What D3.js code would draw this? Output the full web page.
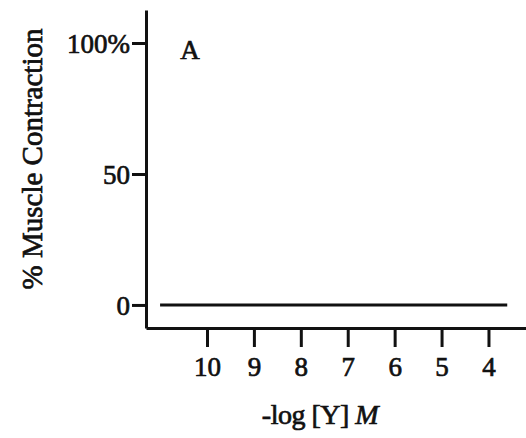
<!DOCTYPE html>
<html>
<head>
<meta charset="utf-8">
<script src="https://cdn.jsdelivr.net/npm/d3@7"></script>
<style>
  body { margin: 0; background: #fff; }
  svg text { font-family: "Liberation Serif", "Times New Roman", serif; fill: #111; stroke: #111; stroke-width: 0.7px; }
</style>
</head>
<body>
<svg width="526" height="438" viewBox="0 0 526 438"></svg>
<script>
// data: contraction stays at 0 over the whole range
var logConc = [11, 3.6];
var contraction = [0, 0];
var xTicks = [10, 9, 8, 7, 6, 5, 4];
var yTicks = [0, 50, 100];
var yTickLabels = ["0", "50", "100%"];

var svg = d3.select("svg");

var x = d3.scaleLinear().domain([11.3, 3.2]).range([146, 526]);
var y = d3.scaleLinear().domain([-8.8, 112.6]).range([328, 10]);

var points = logConc.map(function(d, i) { return [d, contraction[i]]; });

// data line
svg.append("path")
  .datum(points)
  .attr("d", d3.line().x(function(d) { return x(d[0]); }).y(function(d) { return y(d[1]); }))
  .attr("fill", "none")
  .attr("stroke", "#111")
  .attr("stroke-width", 3);

// y axis
var yAxis = svg.append("g")
  .attr("transform", "translate(146,0)")
  .call(d3.axisLeft(y).tickValues(yTicks)
    .tickFormat(function(d, i) { return yTickLabels[i]; })
    .tickSize(14).tickSizeOuter(0).tickPadding(2));

// x axis
var xAxis = svg.append("g")
  .attr("transform", "translate(0," + y(-8.8) + ")")
  .call(d3.axisBottom(x).tickValues(xTicks)
    .tickFormat(d3.format("d"))
    .tickSize(19).tickSizeOuter(0).tickPadding(10));

svg.selectAll(".domain, .tick line")
  .attr("stroke", "#111")
  .attr("stroke-width", 3);
svg.selectAll(".tick text")
  .attr("font-family", "Liberation Serif, serif")
  .attr("font-size", 27)
  .attr("fill", "#111");
yAxis.selectAll(".tick text").attr("dy", "0.36em");

// axis titles
svg.append("text")
  .attr("transform", "translate(32,159) rotate(-90)")
  .attr("text-anchor", "middle")
  .attr("dominant-baseline", "central")
  .attr("font-size", 29)
  .text("% Muscle Contraction");

var xt = svg.append("text")
  .attr("x", 320)
  .attr("y", 424)
  .attr("text-anchor", "middle")
  .attr("font-size", 28)
  .attr("letter-spacing", -0.5);
xt.append("tspan").text("-log [Y] ");
xt.append("tspan").attr("font-style", "italic").text("M");

// panel letter
svg.append("text")
  .attr("x", 190)
  .attr("y", 59)
  .attr("text-anchor", "middle")
  .attr("font-size", 27)
  .text("A");
</script>
</body>
</html>
